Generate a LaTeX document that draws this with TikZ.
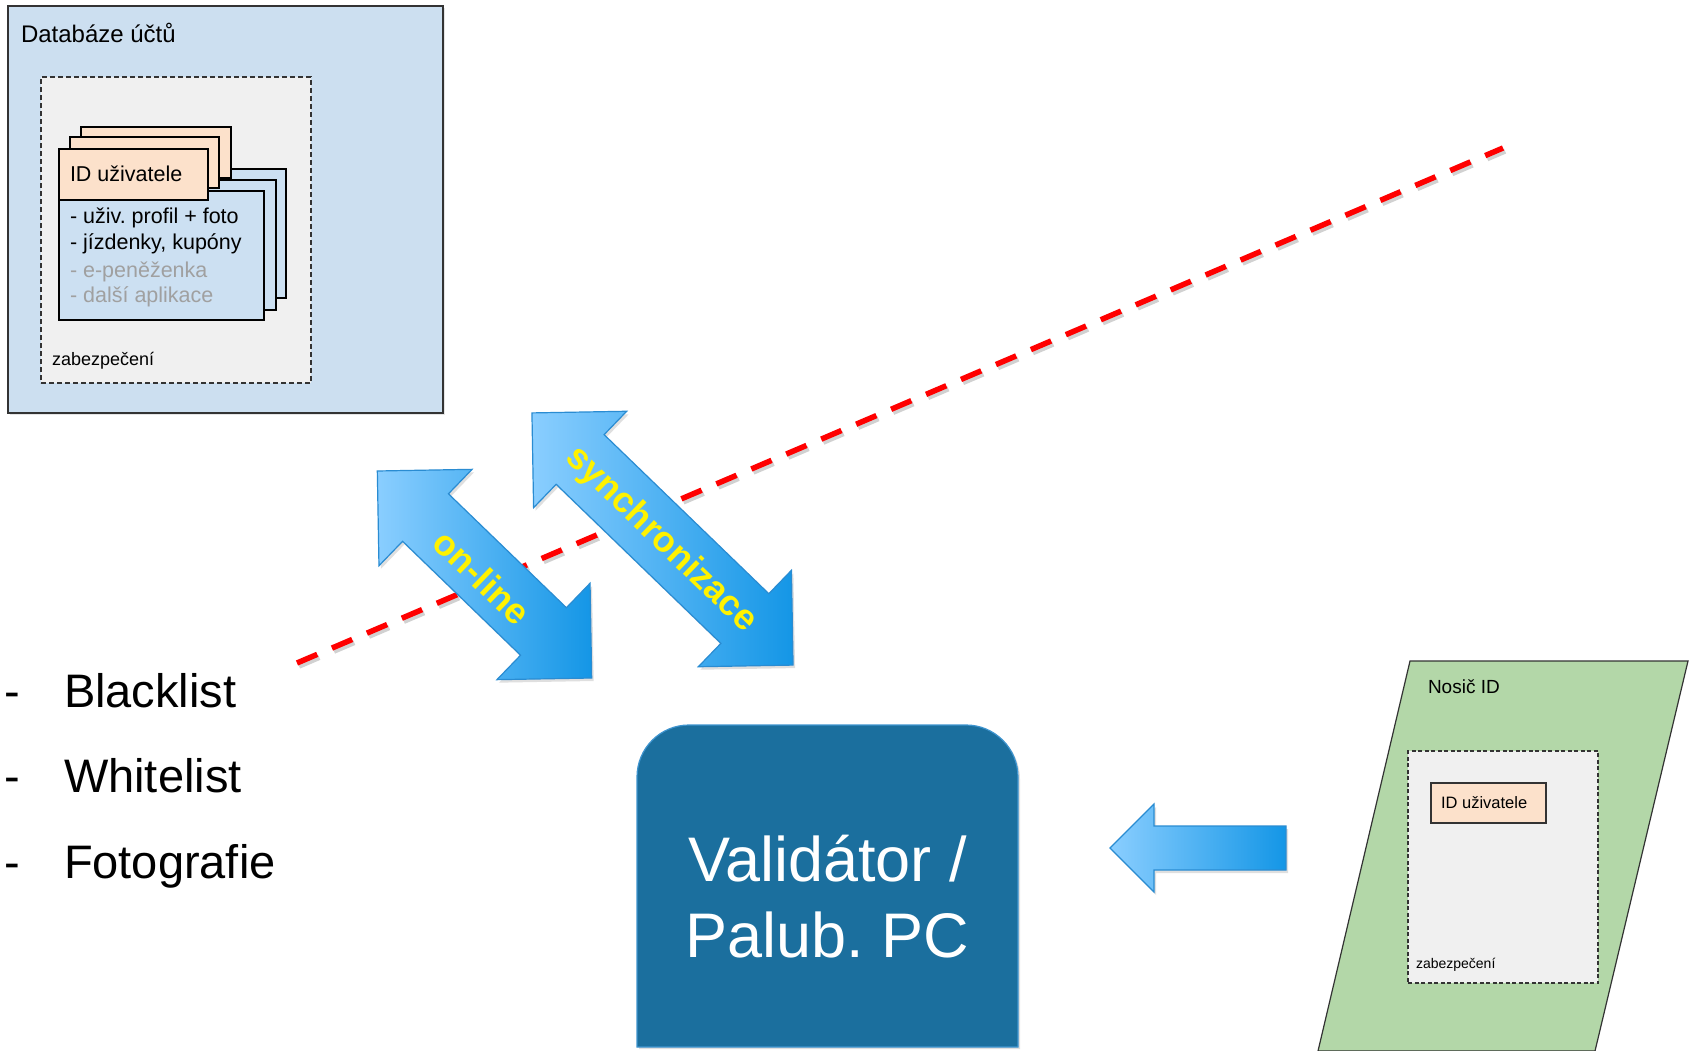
\documentclass[tikz,border=0pt]{standalone}
\usepackage{fontspec}
\setmainfont{Liberation Sans}
\usetikzlibrary{shadows}
\frenchspacing

\definecolor{dbblue}{HTML}{CCDFF0}
\definecolor{secgray}{HTML}{F0F0F0}
\definecolor{idorange}{HTML}{FCE1CB}
\definecolor{cardblue}{HTML}{CCE0F2}
\definecolor{carrier}{HTML}{B3D7A8}
\definecolor{valfill}{HTML}{1B6F9E}
\definecolor{valedge}{HTML}{3E94CF}
\definecolor{arrowlight}{HTML}{8ACEFF}
\definecolor{arrowdark}{HTML}{1496E6}
\definecolor{arrowedge}{HTML}{2A8CD2}
\definecolor{linkred}{HTML}{FF0000}
\definecolor{fadedtext}{HTML}{A0A0A0}
\definecolor{edgegray}{HTML}{333333}

\newcommand\fsz[1]{\fontsize{#1}{#1}\selectfont}

% double block arrow centred at (#1,#2), total length #3, shaft half-width #4
\newcommand\dblarrow[4]{%
  \begin{scope}[shift={(#1,#2)}, rotate=-44]
    \path[blockarrow]
      ({-#3/2},0) -- ({-#3/2+67},-67) -- ({-#3/2+67},-#4) -- ({#3/2-67},-#4)
      -- ({#3/2-67},-67) -- ({#3/2},0) -- ({#3/2-67},67) -- ({#3/2-67},#4)
      -- ({-#3/2+67},#4) -- ({-#3/2+67},67) -- cycle;
  \end{scope}}

\begin{document}
\begin{tikzpicture}[x=1pt, y=-1pt,
  box/.style={anchor=north west, inner sep=0pt, outer sep=0pt},
  txt/.style={anchor=base west, inner sep=0pt, outer sep=0pt},
  secbox/.style={box, draw=edgegray, fill=secgray, line width=1.5pt, dash pattern=on 5pt off 3pt},
  cardbody/.style={box, draw=black, fill=cardblue, line width=1.8pt},
  cardhead/.style={box, draw=black, fill=idorange, line width=1.8pt},
  blockarrow/.style={draw=arrowedge, line width=1.2pt, left color=arrowlight, right color=arrowdark,
    drop shadow={opacity=0.25, shadow xshift=2pt, shadow yshift=-3pt}},
  arrowlabel/.style={inner sep=0pt, text=yellow, font=\fsz{36}\bfseries, rotate=-44},
  redline/.style={draw=linkred, line width=5.5pt, dash pattern=on 22pt off 16pt},
  listitem/.style={txt, font=\fsz{47}}]

\useasboundingbox[fill=white] (0,0) rectangle (1692,1051);

% ---- account database ----
\node[box, draw=edgegray, fill=dbblue, line width=2pt, minimum width=435pt, minimum height=407pt,
  drop shadow={opacity=0.2, shadow xshift=2pt, shadow yshift=-2pt}] (db) at (8,6) {};
\node[txt, font=\fsz{24}] (dbtitle) at (21,43) {Databáze účtů};
\node[secbox, minimum width=270pt, minimum height=306pt] (dbsec) at (41,77) {};
\node[txt, font=\fsz{18}] (dbseclabel) at (52,365) {zabezpečení};

% stacked user records, back to front
\node[cardbody, line width=1.2pt, minimum width=205pt, minimum height=129pt] (body3) at (81,169) {};
\node[cardhead, minimum width=150pt, minimum height=51pt] (head3) at (81,127) {};
\node[cardbody, minimum width=206pt, minimum height=130pt] (body2) at (70,180) {};
\node[cardhead, minimum width=149pt, minimum height=51pt] (head2) at (70,137) {};
\node[cardbody, minimum width=205pt, minimum height=129pt] (body1) at (59,191) {};
\node[cardhead, minimum width=149pt, minimum height=51pt] (head1) at (59,149) {};
\node[txt, font=\fsz{21.5}] (idtext) at (70,182) {ID uživatele};
\node[txt, font=\fsz{21.5}] (rec1) at (70,224) {- uživ. profil + foto};
\node[txt, font=\fsz{21.5}] (rec2) at (70,250) {- jízdenky, kupóny};
\node[txt, font=\fsz{21.5}, text=fadedtext] (rec3) at (70,277) {- e-peněženka};
\node[txt, font=\fsz{21.5}, text=fadedtext] (rec4) at (70,302) {- další aplikace};

% ---- network boundary ----
\coordinate (redstart) at (297,663);
\coordinate (redend) at (1503,148);
\draw[redline, draw=black, opacity=0.18, transform canvas={xshift=2pt, yshift=-3pt}] (redstart) -- (redend);
\draw[redline] (redstart) -- (redend);

% ---- data exchange arrows ----
\dblarrow{484.5}{574.5}{298}{33}
\dblarrow{662.5}{539}{363}{34.5}
\node[arrowlabel] (online) at (482,577) {on-line};
\node[arrowlabel] (sync) at (661,540) {synchronizace};

% ---- lists held on board ----
\node[listitem] (dash1) at (5,707) {-};
\node[listitem] (black) at (64,707) {Blacklist};
\node[listitem] (dash2) at (5,792) {-};
\node[listitem] (white) at (64,792) {Whitelist};
\node[listitem] (dash3) at (5,878) {-};
\node[listitem] (photo) at (64,878) {Fotografie};

% ---- validator / on-board computer ----
\path[fill=valfill, draw=valedge, line width=1.2pt,
  drop shadow={opacity=0.25, shadow xshift=2pt, shadow yshift=-2pt}]
  (637,1047) -- (637,777) arc[start angle=180, end angle=270, radius=52]
  -- (966,725) arc[start angle=270, end angle=360, radius=52] -- (1018,1047) -- cycle;
% anchor=base sits on the last line of the two
\node[anchor=base, inner sep=0pt, align=center, text=white, font=\fontsize{63}{76}\selectfont]
  (validator) at (827.5,957) {Validátor /\\Palub. PC};

% ---- ID carrier ----
\path[fill=carrier, draw=edgegray, line width=1.2pt]
  (1410,661) -- (1688,661) -- (1595,1051) -- (1318,1051) -- cycle;
\node[txt, font=\fsz{19}] (carriertitle) at (1428,693) {Nosič ID};
\node[secbox, line width=1.3pt, dash pattern=on 4pt off 2.5pt, minimum width=190pt, minimum height=232pt] (carriersec) at (1408,751) {};
\node[box, draw=edgegray, fill=idorange, line width=1.5pt, minimum width=115pt, minimum height=40pt] (carrierid) at (1431,783) {};
\node[txt, font=\fsz{16.5}] (carrieridtext) at (1441,808) {ID uživatele};
\node[txt, font=\fsz{14}] (carrierseclabel) at (1416,968) {zabezpečení};

% reading the carrier
\path[blockarrow, left color=arrowlight, right color=arrowdark]
  (1110,848) -- (1154,804) -- (1154,826) -- (1286,826) -- (1286,870)
  -- (1154,870) -- (1154,892) -- cycle;
\end{tikzpicture}
\end{document}
